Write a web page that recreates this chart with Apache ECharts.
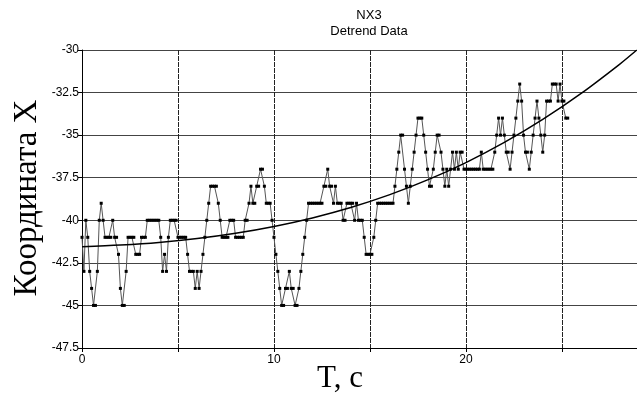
<!DOCTYPE html>
<html><head><meta charset="utf-8">
<script src="https://cdn.jsdelivr.net/npm/echarts@6/dist/echarts.min.js"></script>
<style>html,body{margin:0;padding:0;background:#fff}#c{width:637px;height:398px}</style>
</head><body><div id="c"></div>
<script>
// sampling step of the measured series (seconds)
const sampleStep = 0.1;
// measured X coordinate (detrended data), one value per sample
const seriesValues = [
  -41,-43,-40,-41,-43,-44,-45,-45,-43,-40,
  -39,-40,-41,-41,-41,-41,-40,-41,-41,-42,
  -44,-45,-45,-43,-41,-41,-41,-41,-42,-42,
  -42,-41,-41,-41,-40,-40,-40,-40,-40,-40,
  -40,-41,-43,-42,-43,-41,-40,-40,-40,-40,
  -41,-41,-41,-41,-41,-42,-43,-43,-43,-44,
  -43,-44,-43,-42,-41,-40,-39,-38,-38,-38,
  -38,-39,-40,-41,-41,-41,-41,-40,-40,-40,
  -41,-41,-41,-41,-41,-40,-40,-39,-38,-39,
  -39,-38,-38,-37,-37,-38,-39,-39,-39,-40,
  -41,-42,-43,-44,-45,-45,-44,-44,-43,-44,
  -44,-45,-45,-44,-43,-42,-41,-40,-39,-39,
  -39,-39,-39,-39,-39,-39,-38,-38,-37,-38,
  -38,-39,-38,-39,-39,-39,-40,-40,-39,-39,
  -39,-39,-40,-39,-40,-40,-40,-41,-42,-42,
  -42,-42,-41,-40,-39,-39,-39,-39,-39,-39,
  -39,-39,-39,-38,-37,-36,-35,-35,-37,-38,
  -39,-38,-37,-36,-35,-34,-34,-34,-35,-36,
  -37,-38,-38,-37,-36,-35,-35,-36,-37,-38,
  -37,-38,-37,-36,-37,-36,-37,-36,-36,-37,
  -37,-37,-37,-37,-37,-37,-37,-37,-36,-37,
  -37,-37,-37,-37,-37,-36,-35,-34,-35,-34,
  -35,-36,-36,-37,-36,-35,-34,-33,-32,-33,
  -35,-36,-36,-37,-36,-35,-34,-33,-34,-35,
  -36,-35,-33,-33,-33,-32,-32,-32,-33,-32,
  -33,-33,-34,-34
];
// trend curve
const trendTimes  = [0, 2, 4, 6, 8, 10, 12, 14, 16, 18, 20, 22, 24, 26, 28, 28.9];
const trendValues = [-41.55, -41.45, -41.30, -41.07, -40.76, -40.36, -39.86, -39.25,
                     -38.51, -37.63, -36.61, -35.43, -34.08, -32.55, -30.84, -30.0];
// axis ticks
const yTicks = [-47.5, -45, -42.5, -40, -37.5, -35, -32.5, -30];
const xLabelTicks = [0, 10, 20];

const mainData = seriesValues.map((v, i) => [+(i * sampleStep).toFixed(2), v]);
const trendData = trendTimes.map((t, i) => [t, trendValues[i]]);

const chart = echarts.init(document.getElementById('c'));
const sans = 'Liberation Sans, Arial, sans-serif';
const serif = 'Liberation Serif, Times New Roman, serif';
chart.setOption({
  animation: false,
  backgroundColor: '#fff',
  title: {
    text: 'NX3', subtext: 'Detrend Data', left: 364, top: 4, textAlign: 'center', itemGap: 3,
    textStyle: { fontFamily: sans, fontSize: 13, fontWeight: 'normal', color: '#000' },
    subtextStyle: { fontFamily: sans, fontSize: 13, color: '#000' }
  },
  graphic: [
    { type: 'text', x: 27, y: 198, rotation: Math.PI / 2,
      style: { text: 'Координата X', font: '33px ' + serif, fill: '#000',
               textAlign: 'center', textVerticalAlign: 'middle' } },
    { type: 'text', x: 340, y: 379,
      style: { text: 'T, с', font: '31px ' + serif, fill: '#000',
               textAlign: 'center', textVerticalAlign: 'middle' } }
  ],
  grid: { left: 82, top: 50, right: -5, bottom: 50, containLabel: false, outerBoundsMode: 'none' },
  xAxis: {
    type: 'value', min: 0, max: 29.17, interval: 5,
    axisLine: { show: true, onZero: false, lineStyle: { color: '#000', width: 1 } },
    axisTick: { show: true, length: 4, lineStyle: { color: '#000' } },
    axisLabel: {
      fontFamily: sans, fontSize: 12, color: '#000', margin: 6, showMaxLabel: false,
      formatter: v => xLabelTicks.includes(v) ? String(v) : ''
    },
    splitLine: { show: true, lineStyle: { color: '#222', width: 1, type: [5, 1] } }
  },
  yAxis: {
    type: 'value', min: yTicks[0], max: yTicks[yTicks.length - 1], interval: 2.5,
    axisLine: { show: true, lineStyle: { color: '#000', width: 1 } },
    axisTick: { show: true, length: 4, lineStyle: { color: '#000' } },
    axisLabel: { fontFamily: sans, fontSize: 12, color: '#000', margin: 3 },
    splitLine: { show: true, lineStyle: { color: '#444', width: 1 } }
  },
  series: [
    {
      type: 'line', data: mainData, showAllSymbol: true,
      symbol: 'rect', symbolSize: 3,
      itemStyle: { color: '#000' },
      lineStyle: { color: '#555', width: 1 },
      z: 3
    },
    {
      type: 'line', data: trendData, smooth: 0.3, showSymbol: false,
      lineStyle: { color: '#000', width: 1.5 }, z: 4
    }
  ]
});
</script>
</body></html>
